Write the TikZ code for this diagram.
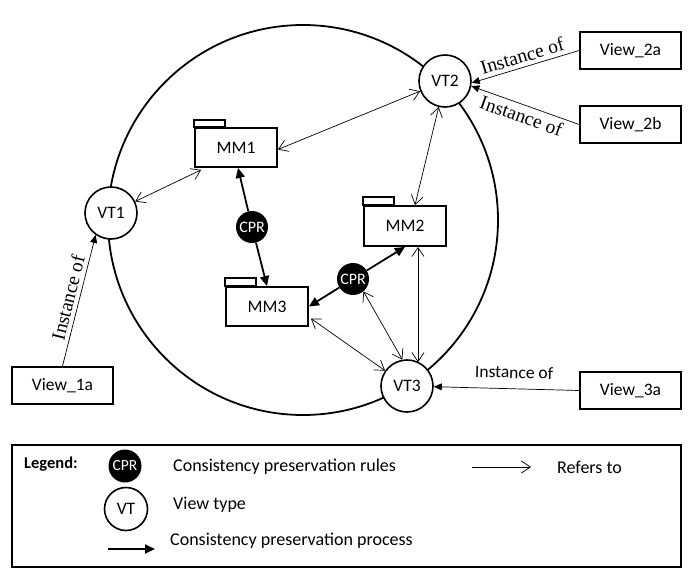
\documentclass[tikz,border=0pt]{standalone}
\usepackage{fontspec}
\setmainfont{Carlito}
\newfontfamily\seriffont{Liberation Serif}
\usetikzlibrary{arrows.meta,calc}
\begin{document}
\begin{tikzpicture}[x=1pt,y=-1pt,
  lbl/.style={font=\fontsize{17.5}{20}\selectfont},
  pkg/.style={draw, line width=1.8pt, fill=white, minimum width=82pt, minimum height=39pt, inner sep=0pt, lbl},
  tab/.style={draw, line width=1.8pt},
  vt/.style={circle, draw, line width=1.6pt, fill=white, minimum size=52pt, inner sep=0pt, lbl},
  cpr/.style={circle, fill=black, text=white, minimum size=32pt, inner sep=0pt, font=\fontsize{16}{18}\selectfont},
  viewbox/.style={draw, line width=1.8pt, minimum width=101pt, minimum height=37pt, inner sep=0pt, lbl},
  ref/.style={line width=0.7pt, {Straight Barb[length=9pt,width=12pt]}-{Straight Barb[length=9pt,width=12pt]}},
  refone/.style={line width=0.7pt, -{Straight Barb[length=9pt,width=12pt]}},
  proc/.style={line width=1.8pt, -{Triangle[length=10pt,width=9pt]}},
  inst/.style={line width=0.7pt, {Triangle[length=8pt,width=7pt]}-},
  instup/.style={line width=0.7pt, -{Triangle[length=8pt,width=7pt]}},
  serlbl/.style={font=\seriffont\fontsize{19.5}{21}\selectfont, inner sep=4pt},
  txt/.style={font=\fontsize{18}{20}\selectfont, inner sep=0pt, anchor=west}
]
\useasboundingbox (0,0) rectangle (697,578);

% outer circle
\node[circle, draw, line width=1.8pt, minimum size=390pt, inner sep=0pt] (world) at (303,220) {};

% packages
\node[pkg] (MM1) at (236,147.5) {MM1};
\node[pkg, minimum height=40pt] (MM2) at (405,226) {MM2};
\node[pkg] (MM3) at (267,306.5) {MM3};
\draw[tab] (MM1.north west) rectangle ++(31,-7);
\draw[tab] (MM2.north west) rectangle ++(31,-8);
\draw[tab] (MM3.north west) rectangle ++(31,-8);

% view types
\node[vt] (VT1) at (111,213) {VT1};
\node[vt] (VT2) at (445,81) {VT2};
\node[vt] (VT3) at (407,386) {VT3};

% CPR
\node[cpr] (CPR1) at (252,227) {CPR};
\node[cpr] (CPR2) at (353,279) {CPR};

% views
\node[viewbox] (V1a) at (62.5,385.5) {View\_1a};
\node[viewbox] (V2a) at (630.5,50.5) {View\_2a};
\node[viewbox] (V2b) at (630.5,124.5) {View\_2b};
\node[viewbox] (V3a) at (630.5,390.5) {View\_3a};

% refers-to connectors
\coordinate (m2b) at ($(MM2.south)+(13,0)$);
\coordinate (v3t) at ($(VT3.north)+(11,3)$);
\draw[ref] (VT1) -- ($(MM1.south west)+(7,2)$);
\draw[ref] ($(MM1.east)+(0,2)$) -- (VT2);
\draw[ref] (VT2) -- ($(MM2.north)+(10,0)$);
\draw[ref] (m2b) -- (m2b |- v3t);
\draw[ref] (CPR2.-50) -- (VT3.100);
\draw[ref] ($(MM3.east)+(2,12)$) -- (VT3.145);

% consistency preservation process
\draw[proc] (CPR1) -- ($(MM1.south)+(2,0)$);
\draw[proc] (CPR1) -- (MM3.north);
\draw[proc] (CPR2) -- (MM3.east);
\draw[proc] (CPR2) -- (MM2.south);

% instance-of
\draw[instup] (V1a.north) -- (VT1.235) node[midway, sloped, above, serlbl] {Instance of};
\draw[inst] (VT2.-4) -- (V2a.west) node[midway, sloped, above, serlbl] {Instance of};
\draw[inst] (VT2.-11) -- (V2b.west) node[midway, sloped, below, serlbl] {Instance of};
\draw[inst] (VT3) -- (V3a.west) node[pos=0.55, sloped, above, lbl, inner sep=10pt] {Instance of};

% legend
\node[draw, line width=1.3pt, minimum width=669pt, minimum height=122pt, inner sep=0pt] (legend) at (346.5,506) {};
\node[font=\fontsize{16.5}{18}\selectfont\bfseries, inner sep=0pt, anchor=west] (lgd) at (24,464) {Legend:};
\node[circle, fill=black, text=white, minimum size=33pt, inner sep=0pt, font=\fontsize{15.5}{17}\selectfont] (lcpr) at (125,466) {CPR};
\node[txt] (t1) at (173,467) {Consistency preservation rules};
\coordinate (ra1) at (472,467);
\coordinate (ra2) at (531,467);
\draw[refone] (ra1) -- (ra2);
\node[txt] (t2) at (557,467) {Refers to};
\node[vt, minimum size=43pt] (lvt) at (126,509) {VT};
\node[txt] (t3) at (173,505) {View type};
\coordinate (pa1) at (108,549);
\coordinate (pa2) at (155,549);
\draw[proc] (pa1) -- (pa2);
\node[txt] (t4) at (170,541) {Consistency preservation process};
\end{tikzpicture}
\end{document}
